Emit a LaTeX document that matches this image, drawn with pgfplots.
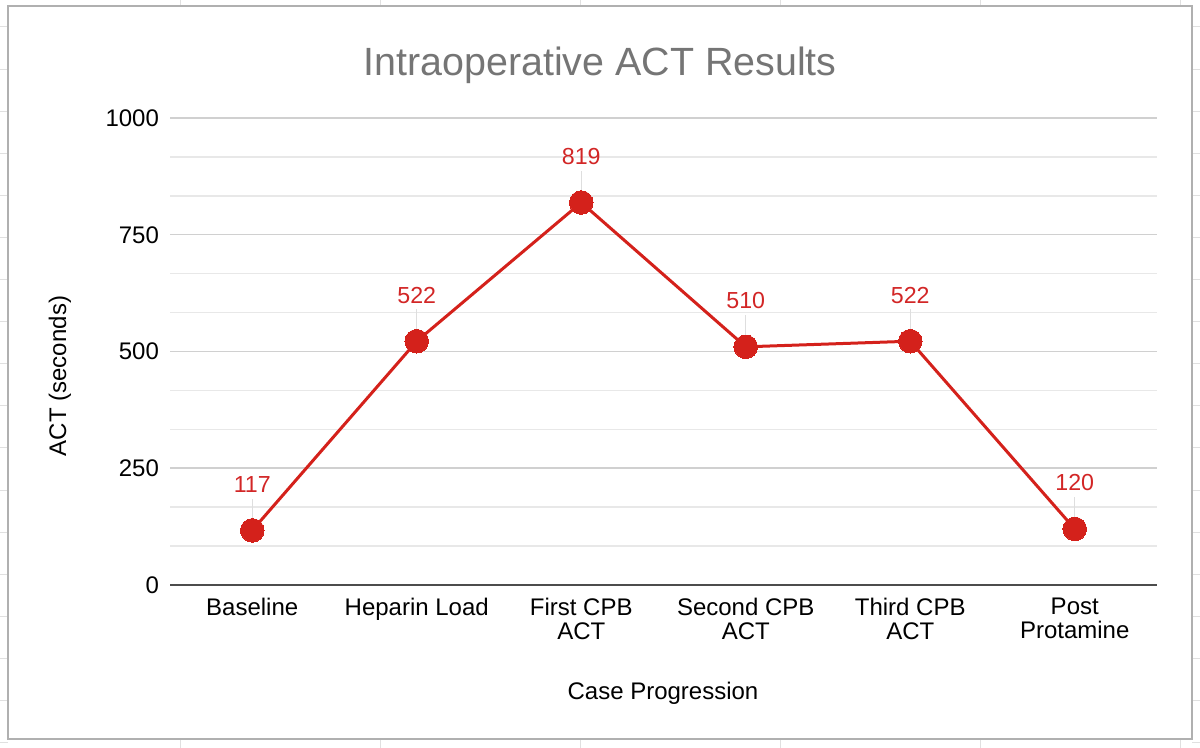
\documentclass[border=0pt]{standalone}
\usepackage{fontspec}
\setmainfont{Liberation Sans}
\usepackage{pgfplots}
\pgfplotsset{compat=1.18}
\definecolor{actred}{RGB}{212,33,27}
\definecolor{lblred}{RGB}{210,38,38}
\definecolor{titlegray}{RGB}{117,117,117}
\definecolor{majgrid}{RGB}{208,208,208}
\definecolor{mingrid}{RGB}{232,232,232}
\definecolor{framegray}{RGB}{176,176,176}
\begin{document}
\begin{tikzpicture}
\useasboundingbox (0,0) rectangle (600pt,374pt);
% faint spreadsheet cell lines outside the chart frame
\foreach \x in {90,190,290,390,490,590} {
  \draw[black!12, line width=0.5pt] (\x pt,371pt) -- (\x pt,374pt);
  \draw[black!12, line width=0.5pt] (\x pt,0pt) -- (\x pt,4.5pt);
}
\foreach \k in {0,...,17} {
  \draw[black!12, line width=0.5pt] (0pt,{360.5pt-\k*21.05pt}) -- (4pt,{360.5pt-\k*21.05pt});
  \draw[black!12, line width=0.5pt] (596pt,{360.5pt-\k*21.05pt}) -- (600pt,{360.5pt-\k*21.05pt});
}
\draw[framegray, line width=0.8pt] (4pt,4.5pt) rectangle (596pt,371pt);
\begin{axis}[
  at={(85pt,81.5pt)}, anchor=south west,
  scale only axis,
  width=493.5pt, height=233.5pt,
  xmin=-0.5, xmax=5.5,
  ymin=0, ymax=1000,
  axis y line*=left, axis x line*=bottom,
  y axis line style={draw=none},
  x axis line style={draw=black!70, line width=1pt},
  ytick={0,250,500,750,1000},
  minor y tick num=2,
  xtick={0,1,2,3,4,5},
  xticklabels={Baseline,Heparin Load,{First CPB\\ACT},{Second CPB\\ACT},{Third CPB\\ACT},{Post\\Protamine}},
  xticklabel style={font=\fontsize{12}{12}\selectfont, align=center, yshift=-3pt},
  yticklabel style={font=\fontsize{12}{12}\selectfont, xshift=-2pt},
  /pgf/number format/assume math mode=true,
  /pgf/number format/1000 sep={},
  major tick length=0pt, minor tick length=0pt,
  ymajorgrids, yminorgrids,
  major grid style={majgrid, line width=0.75pt},
  minor grid style={mingrid, line width=0.7pt},
  axis on top=false,
  clip=false,
]
\addplot[draw=none, mark=none, forget plot,
  error bars/.cd, y dir=plus, y fixed=68,
  error mark=none, error bar style={black!13, line width=0.7pt}]
  coordinates {(0,117) (1,522) (2,819) (3,510) (4,522) (5,120)};
\addplot[actred, line width=1.5pt, mark=*, mark size=5.9pt,
  mark options={fill=actred, draw=actred, line width=0pt},
  nodes near coords,
  every node near coord/.append style={font=\fontsize{11.6}{11.6}\selectfont, text=lblred, anchor=base, yshift=19pt},
  ]
  coordinates {(0,117) (1,522) (2,819) (3,510) (4,522) (5,120)};
\end{axis}
\node[anchor=base, text=titlegray, font=\fontsize{19.7}{19.7}\selectfont] at (300pt,336pt) {Intraoperative ACT Results};
\node[anchor=center, rotate=90, font=\fontsize{12}{12}\selectfont] at (30pt,186pt) {ACT (seconds)};
\node[anchor=base, font=\fontsize{12}{12}\selectfont] at (331.5pt,24pt) {Case Progression};
\end{tikzpicture}
\end{document}
